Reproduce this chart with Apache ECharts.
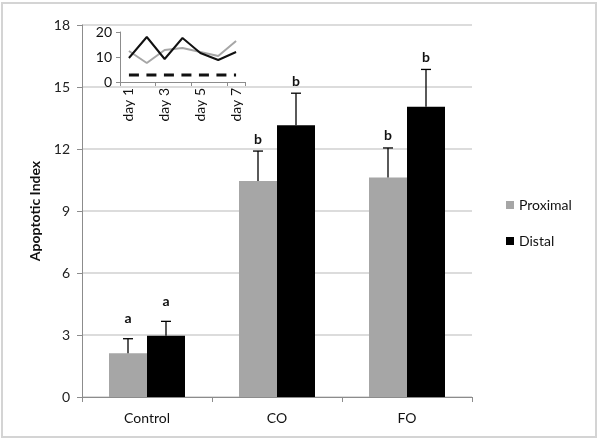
<!DOCTYPE html>
<html><head><meta charset="utf-8">
<script src="https://cdn.jsdelivr.net/npm/echarts@6/dist/echarts.min.js"></script>
<style>html,body{margin:0;padding:0;background:#fff}#c{width:600px;height:440px}</style>
</head><body><div id="c"></div>
<script>
var categories = ['Control', 'CO', 'FO'];
var proximal = [2.12, 10.45, 10.62];
var distal = [2.96, 13.15, 14.05];
var proximalErr = [0.7, 1.45, 1.43];
var distalErr = [0.7, 1.55, 1.8];
var proximalLetters = ['a', 'b', 'b'];
var distalLetters = ['a', 'b', 'b'];
var yTicks = [0, 3, 6, 9, 12, 15, 18];

var days = ['day 1', 'day 2', 'day 3', 'day 4', 'day 5', 'day 6', 'day 7'];
var insetGray = [12.4, 7.6, 12.8, 13.6, 12.0, 10.4, 16.4];
var insetBlack = [9.6, 18.0, 9.2, 17.6, 11.6, 8.8, 12.0];
var insetDashed = [2.8, 2.8, 2.8, 2.8, 2.8, 2.8, 2.8];

var FONT = 'Lato';
var BAR_W = 38;

function errRender(side) {
  return function (params, api) {
    var idx = api.value(0), mean = api.value(1), err = api.value(2);
    var letter = (side < 0 ? proximalLetters : distalLetters)[idx];
    var base = api.coord([idx, mean]);
    var top = api.coord([idx, mean + err]);
    var x = base[0] + side * BAR_W / 2;
    var gap = letter === 'a' ? 13 : 5;
    return {
      type: 'group',
      children: [
        {type: 'line', shape: {x1: x, y1: base[1], x2: x, y2: top[1]}, style: {stroke: '#000', lineWidth: 1.3}},
        {type: 'line', shape: {x1: x - 5, y1: top[1], x2: x + 5, y2: top[1]}, style: {stroke: '#000', lineWidth: 1.3}},
        {type: 'text', x: x, y: top[1] - gap, style: {text: letter, fill: '#111', font: 'bold 14px ' + FONT, align: 'center', verticalAlign: 'bottom'}}
      ]
    };
  };
}

var chart = echarts.init(document.getElementById('c'));
chart.setOption({
  animation: false,
  textStyle: {fontFamily: FONT},
  graphic: [{type: 'rect', shape: {x: 2, y: 3, width: 594, height: 434}, style: {fill: 'none', stroke: '#d4d4d4', lineWidth: 2}, z: -10}],
  legend: {
    data: ['Proximal', 'Distal'], orient: 'vertical', left: 501, top: 193,
    itemWidth: 8, itemHeight: 8, itemGap: 22, icon: 'rect',
    textStyle: {fontFamily: FONT, fontSize: 14, color: '#111'}
  },
  grid: [
    {left: 82, right: 128, top: 25, bottom: 43},
    {left: 120, width: 125, top: 32, height: 50}
  ],
  xAxis: [
    {type: 'category', gridIndex: 0, data: categories,
     axisLine: {lineStyle: {color: '#8c8c8c', width: 1}},
     axisTick: {show: true, length: 5, lineStyle: {color: '#8c8c8c'}},
     axisLabel: {color: '#111', fontSize: 14, fontFamily: FONT, margin: 14}},
    {type: 'category', gridIndex: 1, data: days,
     axisLine: {lineStyle: {color: '#8c8c8c', width: 1}},
     axisTick: {show: true, length: 4, lineStyle: {color: '#8c8c8c'}},
     axisLabel: {color: '#111', fontSize: 14, fontFamily: FONT, rotate: 90, interval: 1, margin: 6}}
  ],
  yAxis: [
    {type: 'value', gridIndex: 0, min: 0, max: 18, interval: 3,
     name: 'Apoptotic Index', nameLocation: 'middle', nameGap: 36,
     nameTextStyle: {fontFamily: FONT, fontSize: 14, fontWeight: 'bold', color: '#111'},
     axisLine: {show: true, lineStyle: {color: '#8c8c8c'}},
     axisTick: {show: true, length: 5, lineStyle: {color: '#8c8c8c'}},
     axisLabel: {color: '#222', fontSize: 14, fontFamily: FONT, margin: 12,
       formatter: function (v) { return yTicks.indexOf(v) >= 0 ? String(v) : ''; }},
     splitLine: {lineStyle: {color: '#dcdcdc', width: 2}}},
    {type: 'value', gridIndex: 1, min: 0, max: 20, interval: 10,
     axisLine: {show: true, lineStyle: {color: '#8c8c8c'}},
     axisTick: {show: true, length: 4, lineStyle: {color: '#8c8c8c'}},
     axisLabel: {color: '#111', fontSize: 14, fontFamily: FONT, margin: 8},
     splitLine: {show: false}}
  ],
  series: [
    {name: 'Proximal', type: 'bar', xAxisIndex: 0, yAxisIndex: 0, data: proximal,
     barWidth: BAR_W, barGap: '0%', itemStyle: {color: '#a6a6a6'}},
    {name: 'Distal', type: 'bar', xAxisIndex: 0, yAxisIndex: 0, data: distal,
     barWidth: BAR_W, barGap: '0%', itemStyle: {color: '#000'}},
    {name: 'pErr', type: 'custom', xAxisIndex: 0, yAxisIndex: 0, renderItem: errRender(-1),
     data: categories.map(function (c, i) { return [i, proximal[i], proximalErr[i]]; }), z: 5},
    {name: 'dErr', type: 'custom', xAxisIndex: 0, yAxisIndex: 0, renderItem: errRender(1),
     data: categories.map(function (c, i) { return [i, distal[i], distalErr[i]]; }), z: 5},
    {name: 'insetGray', type: 'line', xAxisIndex: 1, yAxisIndex: 1, data: insetGray, symbol: 'none',
     lineStyle: {color: '#a6a6a6', width: 2}},
    {name: 'insetBlack', type: 'line', xAxisIndex: 1, yAxisIndex: 1, data: insetBlack, symbol: 'none',
     lineStyle: {color: '#111', width: 2}},
    {name: 'insetDashed', type: 'line', xAxisIndex: 1, yAxisIndex: 1, data: insetDashed, symbol: 'none',
     lineStyle: {color: '#111', width: 3, type: [10, 7.5]}}
  ]
});
</script></body></html>
